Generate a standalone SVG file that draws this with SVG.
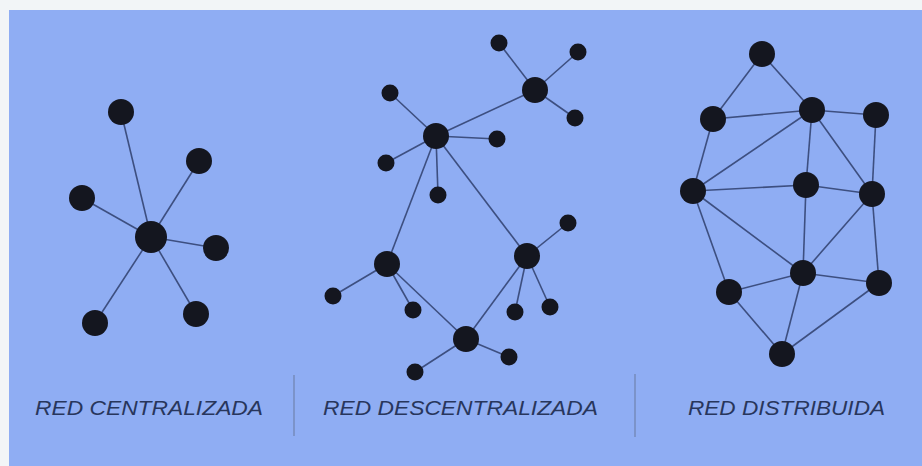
<svg xmlns="http://www.w3.org/2000/svg" width="922" height="466" viewBox="0 0 922 466">
  <style>
    .edge { stroke: #3d4f80; stroke-width: 1.6; fill: none; }
    .node circle { fill: #14161f; }
    .label { font-family: "Liberation Sans", Arial, sans-serif; font-style: italic; font-size: 21px; fill: #28365c; }
    .divider { stroke: #6f82ad; stroke-width: 1.2; }
  </style>

  <!-- page and panel -->
  <rect x="0" y="0" width="922" height="466" fill="#f2f5f7"/>
  <rect x="9" y="10" width="913" height="456" fill="#8fadf3"/>

  <!-- centralized network -->
  <g id="connectors-centralized">
    <line class="edge" x1="151" y1="237" x2="121" y2="112"/>
    <line class="edge" x1="151" y1="237" x2="199" y2="161"/>
    <line class="edge" x1="151" y1="237" x2="82" y2="198"/>
    <line class="edge" x1="151" y1="237" x2="216" y2="248"/>
    <line class="edge" x1="151" y1="237" x2="95" y2="323"/>
    <line class="edge" x1="151" y1="237" x2="196" y2="314"/>
  </g>
  <g id="c-hub" class="node"><circle cx="151" cy="237" r="16"/></g>
  <g id="c-n1" class="node"><circle cx="121" cy="112" r="13"/></g>
  <g id="c-n2" class="node"><circle cx="199" cy="161" r="13"/></g>
  <g id="c-n3" class="node"><circle cx="82" cy="198" r="13"/></g>
  <g id="c-n4" class="node"><circle cx="216" cy="248" r="13"/></g>
  <g id="c-n5" class="node"><circle cx="95" cy="323" r="13"/></g>
  <g id="c-n6" class="node"><circle cx="196" cy="314" r="13"/></g>

  <!-- decentralized network -->
  <g id="connectors-decentralized">
    <line class="edge" x1="436" y1="136" x2="535" y2="90"/>
    <line class="edge" x1="436" y1="136" x2="387" y2="264"/>
    <line class="edge" x1="436" y1="136" x2="527" y2="256"/>
    <line class="edge" x1="387" y1="264" x2="466" y2="339"/>
    <line class="edge" x1="527" y1="256" x2="466" y2="339"/>
    <line class="edge" x1="535" y1="90" x2="499" y2="43"/>
    <line class="edge" x1="535" y1="90" x2="578" y2="52"/>
    <line class="edge" x1="535" y1="90" x2="575" y2="118"/>
    <line class="edge" x1="436" y1="136" x2="390" y2="93"/>
    <line class="edge" x1="436" y1="136" x2="386" y2="163"/>
    <line class="edge" x1="436" y1="136" x2="497" y2="139"/>
    <line class="edge" x1="436" y1="136" x2="438" y2="195"/>
    <line class="edge" x1="527" y1="256" x2="568" y2="223"/>
    <line class="edge" x1="527" y1="256" x2="515" y2="312"/>
    <line class="edge" x1="527" y1="256" x2="550" y2="307"/>
    <line class="edge" x1="387" y1="264" x2="333" y2="296"/>
    <line class="edge" x1="387" y1="264" x2="413" y2="310"/>
    <line class="edge" x1="466" y1="339" x2="415" y2="372"/>
    <line class="edge" x1="466" y1="339" x2="509" y2="357"/>
  </g>
  <g id="d-hub-a" class="node"><circle cx="436" cy="136" r="13"/></g>
  <g id="d-hub-b" class="node"><circle cx="535" cy="90" r="13"/></g>
  <g id="d-hub-c" class="node"><circle cx="387" cy="264" r="13"/></g>
  <g id="d-hub-d" class="node"><circle cx="527" cy="256" r="13"/></g>
  <g id="d-hub-e" class="node"><circle cx="466" cy="339" r="13"/></g>
  <g id="d-b1" class="node"><circle cx="499" cy="43" r="8.5"/></g>
  <g id="d-b2" class="node"><circle cx="578" cy="52" r="8.5"/></g>
  <g id="d-b3" class="node"><circle cx="575" cy="118" r="8.5"/></g>
  <g id="d-a1" class="node"><circle cx="390" cy="93" r="8.5"/></g>
  <g id="d-a2" class="node"><circle cx="386" cy="163" r="8.5"/></g>
  <g id="d-a3" class="node"><circle cx="497" cy="139" r="8.5"/></g>
  <g id="d-a4" class="node"><circle cx="438" cy="195" r="8.5"/></g>
  <g id="d-d1" class="node"><circle cx="568" cy="223" r="8.5"/></g>
  <g id="d-d2" class="node"><circle cx="515" cy="312" r="8.5"/></g>
  <g id="d-d3" class="node"><circle cx="550" cy="307" r="8.5"/></g>
  <g id="d-c1" class="node"><circle cx="333" cy="296" r="8.5"/></g>
  <g id="d-c2" class="node"><circle cx="413" cy="310" r="8.5"/></g>
  <g id="d-e1" class="node"><circle cx="415" cy="372" r="8.5"/></g>
  <g id="d-e2" class="node"><circle cx="509" cy="357" r="8.5"/></g>

  <!-- distributed network -->
  <g id="connectors-distributed">
    <line class="edge" x1="762" y1="54" x2="713" y2="119"/>
    <line class="edge" x1="762" y1="54" x2="812" y2="110"/>
    <line class="edge" x1="713" y1="119" x2="812" y2="110"/>
    <line class="edge" x1="812" y1="110" x2="876" y2="115"/>
    <line class="edge" x1="713" y1="119" x2="693" y2="191"/>
    <line class="edge" x1="812" y1="110" x2="693" y2="191"/>
    <line class="edge" x1="812" y1="110" x2="806" y2="185"/>
    <line class="edge" x1="812" y1="110" x2="872" y2="194"/>
    <line class="edge" x1="876" y1="115" x2="872" y2="194"/>
    <line class="edge" x1="693" y1="191" x2="806" y2="185"/>
    <line class="edge" x1="806" y1="185" x2="872" y2="194"/>
    <line class="edge" x1="693" y1="191" x2="803" y2="273"/>
    <line class="edge" x1="693" y1="191" x2="729" y2="292"/>
    <line class="edge" x1="806" y1="185" x2="803" y2="273"/>
    <line class="edge" x1="872" y1="194" x2="803" y2="273"/>
    <line class="edge" x1="872" y1="194" x2="879" y2="283"/>
    <line class="edge" x1="803" y1="273" x2="729" y2="292"/>
    <line class="edge" x1="803" y1="273" x2="879" y2="283"/>
    <line class="edge" x1="803" y1="273" x2="782" y2="354"/>
    <line class="edge" x1="729" y1="292" x2="782" y2="354"/>
    <line class="edge" x1="879" y1="283" x2="782" y2="354"/>
  </g>
  <g id="r-n1" class="node"><circle cx="762" cy="54" r="13"/></g>
  <g id="r-n2" class="node"><circle cx="713" cy="119" r="13"/></g>
  <g id="r-n3" class="node"><circle cx="812" cy="110" r="13"/></g>
  <g id="r-n4" class="node"><circle cx="876" cy="115" r="13"/></g>
  <g id="r-n5" class="node"><circle cx="693" cy="191" r="13"/></g>
  <g id="r-n6" class="node"><circle cx="806" cy="185" r="13"/></g>
  <g id="r-n7" class="node"><circle cx="872" cy="194" r="13"/></g>
  <g id="r-n8" class="node"><circle cx="803" cy="273" r="13"/></g>
  <g id="r-n9" class="node"><circle cx="879" cy="283" r="13"/></g>
  <g id="r-n10" class="node"><circle cx="729" cy="292" r="13"/></g>
  <g id="r-n11" class="node"><circle cx="782" cy="354" r="13"/></g>

  <!-- captions and dividers -->
  <g id="captions">
    <line class="divider" x1="294" y1="375" x2="294" y2="436"/>
    <line class="divider" x1="635" y1="374" x2="635" y2="437"/>
    <text class="label" x="35" y="415" textLength="228" lengthAdjust="spacingAndGlyphs">RED CENTRALIZADA</text>
    <text class="label" x="323" y="415" textLength="275" lengthAdjust="spacingAndGlyphs">RED DESCENTRALIZADA</text>
    <text class="label" x="688" y="415" textLength="197" lengthAdjust="spacingAndGlyphs">RED DISTRIBUIDA</text>
  </g>
</svg>
